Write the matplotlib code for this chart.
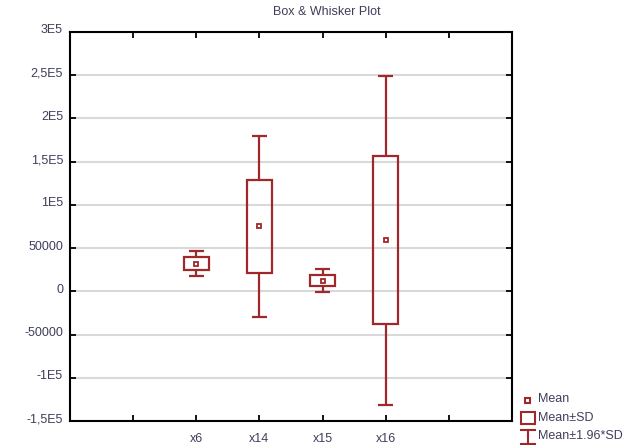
import numpy as np
import matplotlib
matplotlib.use('Agg')
import matplotlib.pyplot as plt
import matplotlib.transforms as mtransforms
from matplotlib.patches import Rectangle
from matplotlib.lines import Line2D

# data
variables = ['x6', 'x14', 'x15', 'x16']
means = np.array([32000, 75000, 12500, 59000])
sds = np.array([7300, 53500, 6700, 97000])
y_ticks = [-150000, -100000, -50000, 0, 50000, 100000, 150000, 200000, 250000, 300000]
y_labels = ['-1,5E5', '-1E5', '-50000', '0', '50000', '1E5', '1,5E5', '2E5', '2,5E5', '3E5']

red = '#a0282a'
txt = '#3e3e5c'
fs = 9

plt.rcParams['font.family'] = ['Liberation Sans', 'DejaVu Sans']

W, H = 642, 445
fig = plt.figure(figsize=(W / 100, H / 100), dpi=100)
ax = fig.add_axes([70 / W, 1 - 421 / H, (512 - 70) / W, (421 - 32) / H])

x = np.arange(len(variables))
lw = 1.6

# boxes (mean +/- SD)
ax.bar(x, 2 * sds, bottom=means - sds, width=0.4, fill=False,
       edgecolor=red, linewidth=lw, zorder=3)
# whiskers (mean +/- 1.96 SD)
top = means + 1.96 * sds
bot = means - 1.96 * sds
ax.vlines(x, means + sds, top, color=red, linewidth=lw, zorder=3)
ax.vlines(x, bot, means - sds, color=red, linewidth=lw, zorder=3)
ax.hlines(top, x - 0.115, x + 0.115, color=red, linewidth=lw, zorder=3)
ax.hlines(bot, x - 0.115, x + 0.115, color=red, linewidth=lw, zorder=3)
# mean markers
ax.plot(x, means, 's', ms=3.2, mfc='white', mec=red, mew=1.3, zorder=4)

ax.set_xlim(-2, 5)
ax.set_ylim(-150000, 300000)
ax.set_xticks(np.arange(-2, 6))
ax.set_xticklabels(['', ''] + variables + ['', ''])
ax.set_yticks(y_ticks)
ax.set_yticklabels(y_labels)
ax.yaxis.grid(True, color='#d9d9d9', linewidth=1.5, zorder=0)
ax.set_axisbelow(True)

ax.tick_params(direction='in', top=True, right=True, length=4, width=1.3,
               labelsize=fs, labelcolor=txt, pad=5)
ax.tick_params(axis='x', pad=9)
for s in ax.spines.values():
    s.set_linewidth(1.5)
    s.set_color('black')

# y labels sit a little above their ticks in the original
shift = mtransforms.ScaledTranslation(0, 3 / 100, fig.dpi_scale_trans)
for lab in ax.get_yticklabels():
    lab.set_transform(lab.get_transform() + shift)

fig.text(327 / W, 1 - 12 / H, 'Box & Whisker Plot', ha='center', va='center',
         fontsize=fs, color=txt)

# legend drawn outside the axes, bottom right
def fx(px):
    return px / W

def fy(py):
    return 1 - py / H

fig.add_artist(Rectangle((fx(525), fy(402.5)), 5 / W, 5 / H, transform=fig.transFigure,
                         fill=False, edgecolor=red, linewidth=1.5))
fig.add_artist(Rectangle((fx(521), fy(424)), 14 / W, 12 / H, transform=fig.transFigure,
                         fill=False, edgecolor=red, linewidth=1.5))
fig.add_artist(Line2D([fx(521), fx(535)], [fy(429.5), fy(429.5)], transform=fig.transFigure,
                      color=red, linewidth=1.5))
fig.add_artist(Line2D([fx(528), fx(528)], [fy(429.5), fy(446)], transform=fig.transFigure,
                      color=red, linewidth=1.5))
fig.add_artist(Line2D([fx(521), fx(535)], [fy(444), fy(444)], transform=fig.transFigure,
                      color=red, linewidth=1.5))
for label, py in [('Mean', 399.5), ('Mean±SD', 418), ('Mean±1.96*SD', 436)]:
    fig.text(fx(538), fy(py), label, ha='left', va='center', fontsize=fs, color=txt)

fig.savefig('out.png', dpi=100)
